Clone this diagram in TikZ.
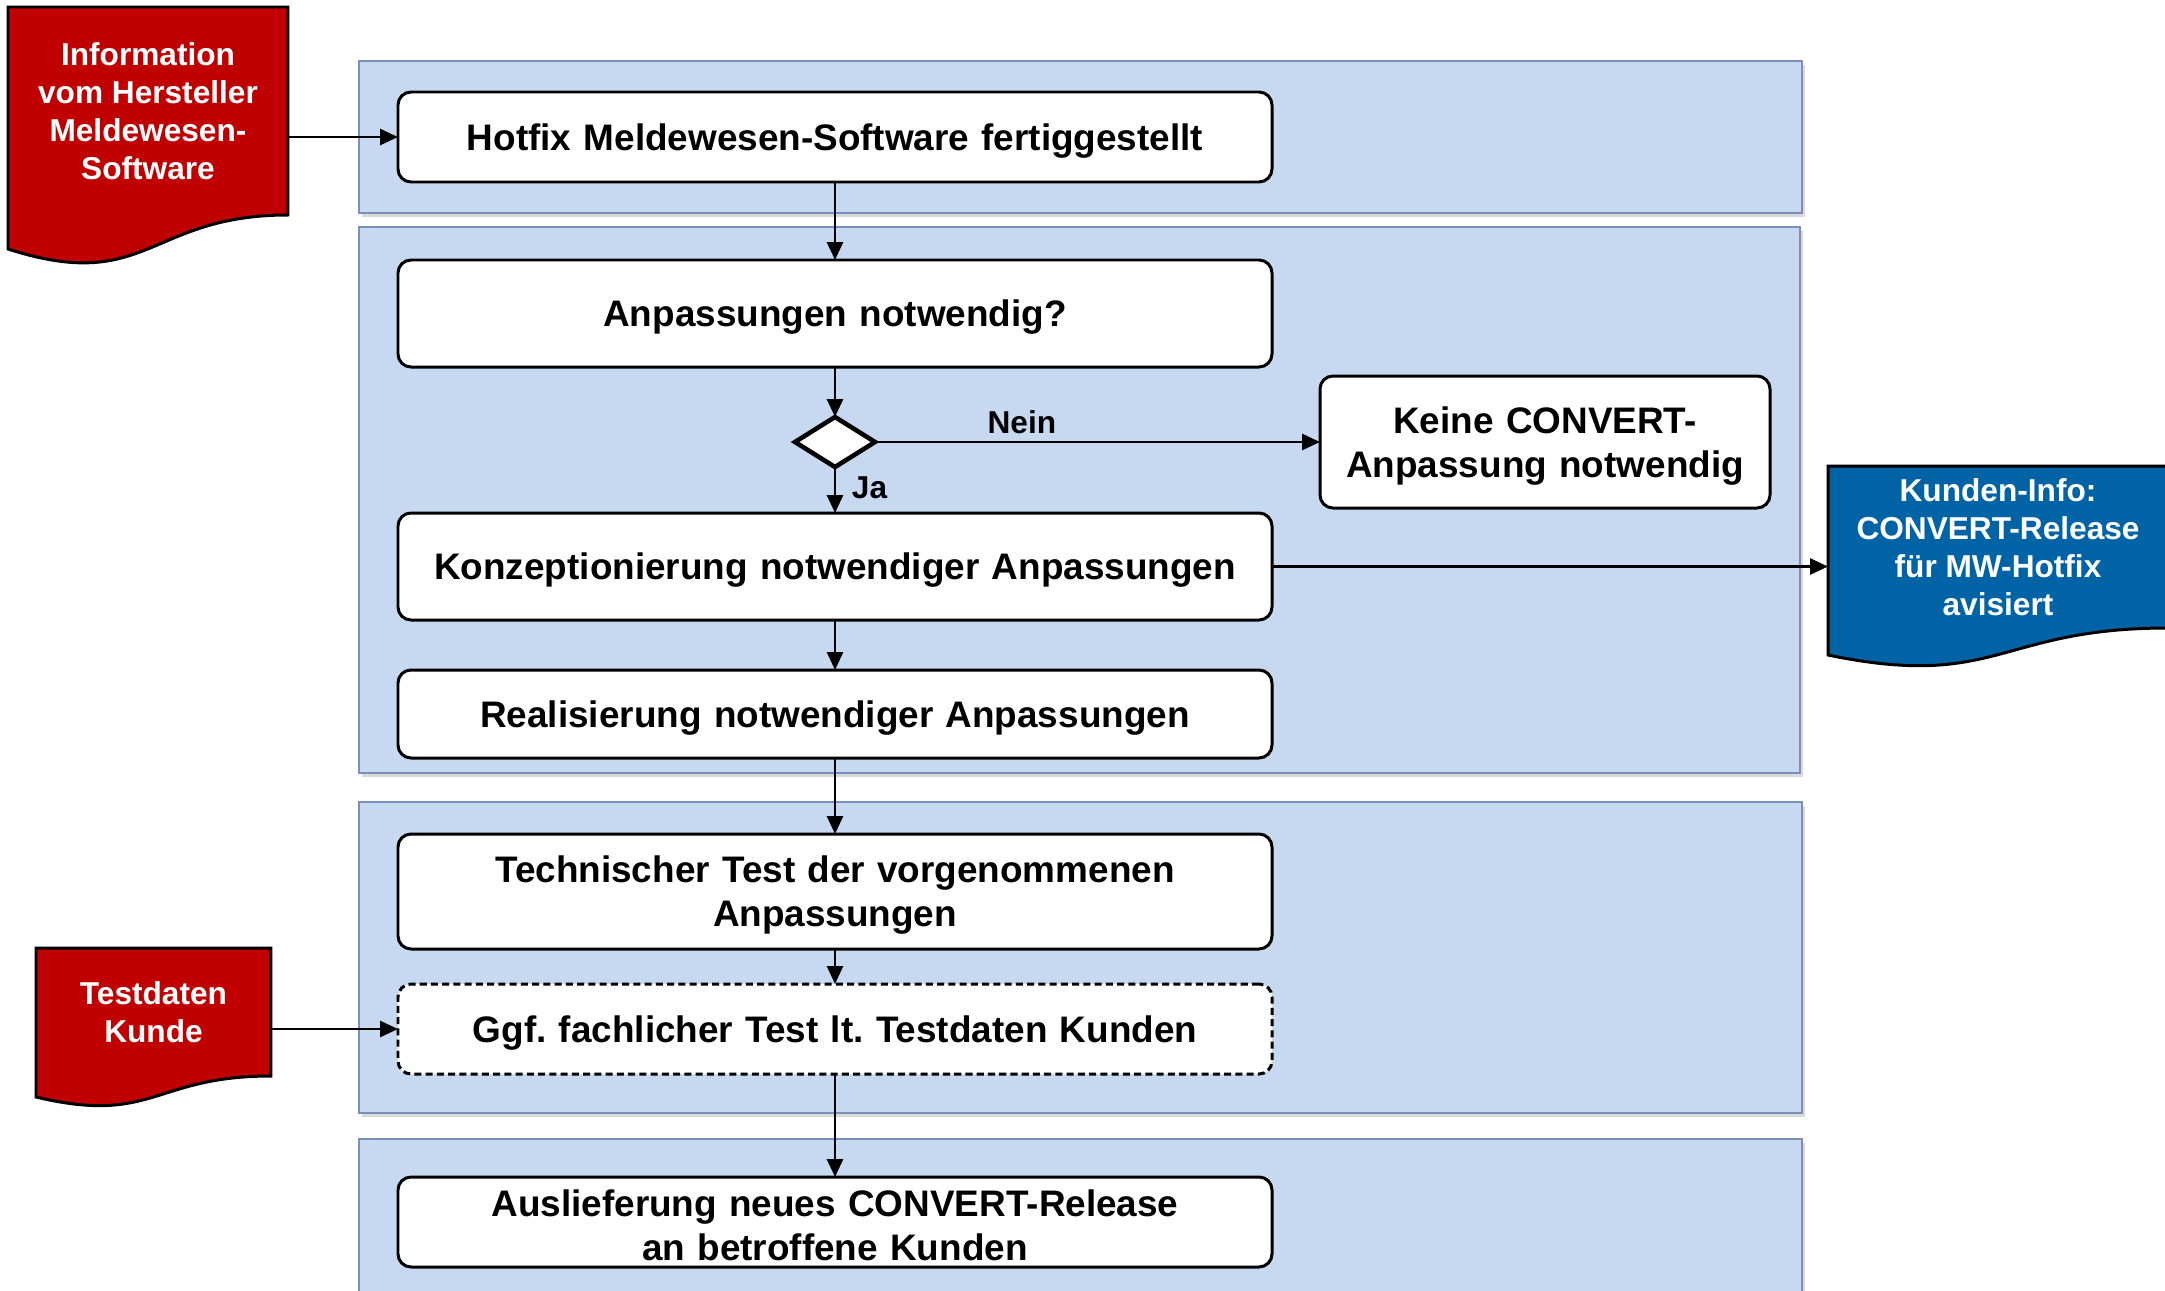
\documentclass[tikz,border=0pt]{standalone}
\usepackage{fontspec}
\setmainfont{Liberation Sans}
\usepackage{xcolor}
\usepackage{tikz}
\usetikzlibrary{shapes,arrows.meta,positioning,calc,shadows}

\definecolor{bandblue}{RGB}{198,217,241}
\definecolor{bandline}{RGB}{124,142,186}
\definecolor{docred}{RGB}{192,0,0}
\definecolor{docblue}{RGB}{0,99,166}

\frenchspacing

\begin{document}
\begin{tikzpicture}[
    node distance=0.5cm,
    band/.style={draw=bandline, fill=bandblue, line width=0.6pt, drop shadow={shadow xshift=0.03cm, shadow yshift=-0.04cm, opacity=0.3}},
    task/.style={rectangle, rounded corners=0.13cm, draw, line width=0.85pt, outer sep=0pt, fill=white, text width=8.4cm, minimum width=8.74cm, align=center, font=\fontsize{10.5}{12.5}\selectfont\bfseries, execute at begin node={\rule{0pt}{9.7pt}}},
    decision/.style={diamond, draw, line width=1.3pt, outer sep=0pt, fill=white, inner sep=0pt, minimum width=0.80cm, minimum height=0.50cm},
    doc/.style={draw, line width=0.85pt},
    doctext/.style={rectangle, text=white, align=center, inner sep=0pt, outer sep=0pt, font=\fontsize{9}{10.8}\selectfont\bfseries},
    tag/.style={font=\fontsize{9}{10.8}\selectfont\bfseries, inner sep=1pt},
    arrow/.style={line width=0.8pt, -{Triangle[length=0.18cm,width=0.16cm]}}
]
\useasboundingbox (0,0) rectangle (21.65,-12.90);

% swimlane bands
\draw[band] (3.59,-0.61) rectangle (18.02,-2.13);
\draw[band] (3.59,-2.27) rectangle (18.00,-7.73);
\draw[band] (3.59,-8.02) rectangle (18.02,-11.13);
\draw[band] (3.59,-11.39) rectangle (18.02,-13.20);

% document shapes
\draw[doc, fill=docred] (0.08,-0.07) -- (2.88,-0.07) -- (2.88,-2.15) .. controls (1.48,-2.15) and (1.48,-2.94) .. (0.08,-2.49) -- cycle;
\draw[doc, fill=docred] (0.36,-9.48) -- (2.71,-9.48) -- (2.71,-10.76) .. controls (1.535,-10.76) and (1.535,-11.25) .. (0.36,-10.97) -- cycle;
\draw[doc, fill=docblue] (18.28,-4.66) -- (21.68,-4.66) -- (21.68,-6.28) .. controls (19.98,-6.28) and (19.98,-6.90) .. (18.28,-6.55) -- cycle;

\node[doctext, minimum width=2.80cm, minimum height=2.08cm] (vendor) at (1.48,-1.11) {Information\\vom Hersteller\\Meldewesen-\\Software};
\node[doctext, minimum width=2.35cm, minimum height=1.28cm] (testdata) at (1.535,-10.12) {Testdaten\\Kunde};
\node[doctext, minimum width=3.40cm, minimum height=1.62cm] (notice) at (19.98,-5.47) {Kunden-Info:\\CONVERT-Release\\für MW-Hotfix\\avisiert};

% main flow
\node[task, minimum height=0.90cm] (hotfix) at (8.35,-1.37) {Hotfix Meldewesen-Software fertiggestellt};
\node[task, minimum height=1.07cm, below=0.78cm of hotfix] (check) {Anpassungen notwendig?};
\node[decision, below=0.50cm of check] (decide) {};
\node[task, minimum height=1.07cm, below=0.46cm of decide] (concept) {Konzeptionierung notwendiger Anpassungen};
\node[task, minimum height=0.88cm, below=0.50cm of concept] (build) {Realisierung notwendiger Anpassungen};
\node[task, minimum height=1.15cm, below=0.76cm of build] (techtest) {Technischer Test der vorgenommenen\\Anpassungen};
\node[task, dash pattern=on 2pt off 1.2pt, minimum height=0.90cm, below=0.35cm of techtest] (custtest) {Ggf. fachlicher Test lt. Testdaten Kunden};
\node[task, inner ysep=0.5pt, minimum height=0.90cm, below=1.03cm of custtest] (deliver) {Auslieferung neues CONVERT-Release\\an betroffene Kunden};
\node[task, text width=4.2cm, minimum width=4.50cm, minimum height=1.32cm, right=4.45cm of decide] (nochange) {Keine CONVERT-\\Anpassung notwendig};

\draw[arrow] (vendor.east |- hotfix.west) -- (hotfix.west);
\draw[arrow] (hotfix) -- (check);
\draw[arrow] (check) -- (decide);
\draw[arrow] (decide.east) -- node[tag, above=1pt, pos=0.33] {Nein} (nochange.west);
\draw[arrow] (decide.south) -- node[tag, right=0.12cm, pos=0.45] {Ja} (concept.north);
\draw[arrow] (concept) -- (build);
\draw[arrow] (concept.east) -- (concept.east -| notice.west);
\draw[arrow] (build) -- (techtest);
\draw[arrow] (techtest) -- (custtest);
\draw[arrow] (testdata.east |- custtest.west) -- (custtest.west);
\draw[arrow] (custtest) -- (deliver);

\end{tikzpicture}
\end{document}
